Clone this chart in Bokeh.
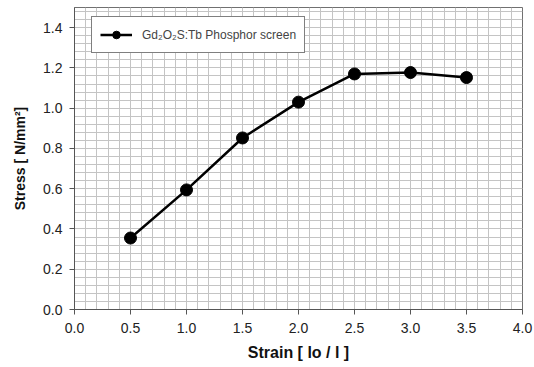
from bokeh.plotting import figure
from bokeh.models import Range1d, FixedTicker, PrintfTickFormatter, Legend, LegendItem, ColumnDataSource
from bokeh.embed import file_html
from bokeh.resources import INLINE

strain = [0.5, 1.0, 1.5, 2.0, 2.5, 3.0, 3.5]
stress = [0.355, 0.594, 0.852, 1.030, 1.170, 1.177, 1.152]
series_name = "Gd\u2082O\u2082S:Tb Phosphor screen"
x_major = [0.0, 0.5, 1.0, 1.5, 2.0, 2.5, 3.0, 3.5, 4.0]
y_major = [0.0, 0.2, 0.4, 0.6, 0.8, 1.0, 1.2, 1.4]
x_minor = [round(i * 0.1, 2) for i in range(0, 41)]
y_minor = [round(i * 0.04, 2) for i in range(0, 38)]

FONT = "Liberation Sans"

p = figure(width=534, height=367, output_backend="svg", toolbar_location=None,
           x_range=Range1d(0, 4), y_range=Range1d(0, 1.5),
           min_border_left=74, min_border_right=12, min_border_top=7, min_border_bottom=58)
p.background_fill_color = "white"
p.border_fill_color = "white"
p.outline_line_color = "#707070"
p.outline_line_width = 1

src = ColumnDataSource(dict(x=strain, y=stress))
ln = p.line("x", "y", source=src, line_color="black", line_width=2.5)
sc = p.scatter("x", "y", source=src, size=12, fill_color="black", line_color="black")

p.xaxis.ticker = FixedTicker(ticks=x_major, minor_ticks=x_minor)
p.yaxis.ticker = FixedTicker(ticks=y_major, minor_ticks=y_minor)
p.xaxis.formatter = PrintfTickFormatter(format="%.1f")
p.yaxis.formatter = PrintfTickFormatter(format="%.1f")

for g in (p.xgrid, p.ygrid):
    g.grid_line_color = "#c4c4c4"
    g.grid_line_width = 1
    g.minor_grid_line_color = "#c4c4c4"
    g.minor_grid_line_width = 1

for ax in (p.xaxis, p.yaxis):
    ax.axis_line_color = "#555555"
    ax.axis_line_width = 1
    ax.major_tick_line_color = "#555555"
    ax.major_tick_in = 0
    ax.major_tick_out = 5
    ax.minor_tick_line_color = None
    ax.major_label_text_font = FONT
    ax.major_label_text_font_size = "14px"
    ax.major_label_text_color = "#222222"
    ax.axis_label_text_font = FONT
    ax.axis_label_text_font_style = "bold"
    ax.axis_label_text_color = "#111111"

p.xaxis.axis_label = "Strain [ lo / l ]"
p.yaxis.axis_label = "Stress [ N/mm\u00b2]"
p.xaxis.axis_label_text_font_size = "16px"
p.yaxis.axis_label_text_font_size = "14px"
p.xaxis.major_label_standoff = 8
p.yaxis.major_label_standoff = 7
p.xaxis.axis_label_standoff = 8
p.yaxis.axis_label_standoff = 12

legend = Legend(items=[LegendItem(label=series_name, renderers=[ln, sc])],
                location=(17, 256))
legend.border_line_color = "black"
legend.border_line_width = 1
legend.background_fill_alpha = 1
legend.label_text_font = FONT
legend.label_text_font_size = "12px"
legend.glyph_width = 32
legend.glyph_height = 19
legend.padding = 8
legend.spacing = 0
legend.margin = 0
legend.label_standoff = 10
p.add_layout(legend)

open("out.html", "w").write(file_html(p, INLINE))
